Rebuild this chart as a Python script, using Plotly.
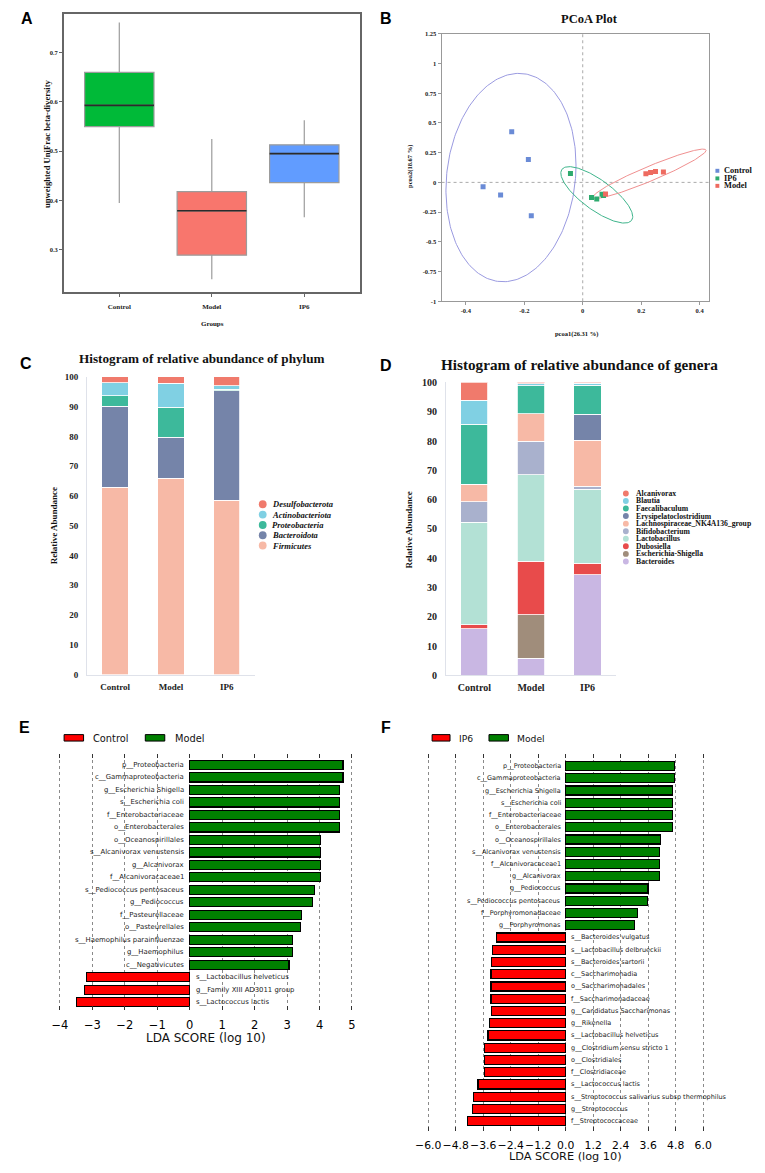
import numpy as np
import plotly.graph_objects as go

# The page body adds an 8px margin, so the figure is drawn 8px in and the
# layout helpers map reference-pixel positions onto the figure.
OFF = 8
W, H = 765 - OFF, 1173 - OFF
def px(x): return min(max((x - OFF) / W, 0), 1)
def py(y): return min(max(1 - (y - OFF) / H, 0), 1)

SERIF = "Liberation Serif"
SANS = "DejaVu Sans"
ARIAL = "Liberation Sans"

# ---------------- Panel A: beta diversity boxplots ----------------
groups = ["Control", "Model", "IP6"]
a_q1 = [0.550, 0.289, 0.436]
a_median = [0.593, 0.379, 0.495]
a_q3 = [0.660, 0.418, 0.513]
a_lower = [0.395, 0.240, 0.366]
a_upper = [0.761, 0.525, 0.563]
a_colors = ["#00BA38", "#F8766D", "#619CFF"]
a_yticks = [0.3, 0.4, 0.5, 0.6, 0.7]

# ---------------- Panel B: PCoA ----------------
pcoa_groups = ["Control", "IP6", "Model"]
ctrl_x = [-0.243, -0.186, -0.341, -0.281, -0.176]
ctrl_y = [0.425, 0.192, -0.036, -0.106, -0.281]
ip6_x = [-0.042, 0.030, 0.048, 0.066, 0.071]
ip6_y = [0.075, -0.128, -0.139, -0.100, -0.110]
model_x = [0.078, 0.216, 0.232, 0.249, 0.276]
model_y = [-0.097, 0.072, 0.083, 0.092, 0.087]
# ellipse: centre, half x-extent, half y-extent, correlation
ell_cx = [-0.2455, 0.048, 0.2285]
ell_cy = [0.0405, -0.105, 0.0725]
ell_sx = [0.2225, 0.123, 0.1935]
ell_sy = [0.8765, 0.2375, 0.2075]
ell_rho = [0.12, -0.77, 0.947]
pcoa_point_colors = ["#6A8BD6", "#2EAA6E", "#EE6B60"]
pcoa_ell_colors = ["#9A9AE0", "#3FB58C", "#F09090"]
b_yticks = [1.25, 1, 0.75, 0.5, 0.25, 0, -0.25, -0.5, -0.75, -1]
b_yticktext = ["1.25", "1", "0.75", "0.5", "0.25", "0", "-0.25", "-0.5", "-0.75", "-1"]
b_xticks = [-0.4, -0.2, 0, 0.2, 0.4]
b_xticktext = ["-0.4", "-0.2", "0", "0.2", "0.4"]

# ---------------- Panel C: phylum ----------------
phyla = ["Firmicutes", "Bacteroidota", "Proteobacteria", "Actinobacteriota", "Desulfobacterota"]
firmicutes = [63.0, 66.0, 58.5]
bacteroidota = [27.1, 13.8, 36.8]
proteobacteria = [3.6, 10.0, 0.5]
actinobacteriota = [4.3, 8.1, 1.2]
desulfobacterota = [2.0, 2.1, 3.0]
phylum_colors = ["#F7B9A6", "#7584A9", "#3DB99B", "#80D0E3", "#F07A6C"]

# ---------------- Panel D: genera ----------------
genera = ["Bacteroides", "Escherichia-Shigella", "Dubosiella", "Lactobacillus",
          "Bifidobacterium", "Lachnospiraceae_NK4A136_group", "Erysipelatoclostridium",
          "Faecalibaculum", "Blautia", "Alcanivorax"]
bacteroides = [16.0, 5.9, 34.4]
escherichia_shigella = [0.0, 14.8, 0.0]
dubosiella = [1.3, 18.3, 3.9]
lactobacillus = [34.9, 29.5, 25.3]
bifidobacterium = [7.0, 11.5, 1.0]
lachnospiraceae = [6.1, 9.3, 15.7]
erysipelatoclostridium = [0.0, 0.0, 8.8]
faecalibaculum = [20.4, 9.5, 9.9]
blautia = [8.2, 0.8, 0.8]
alcanivorax = [6.1, 0.4, 0.2]
genus_colors = ["#C9B7E3", "#A08D7B", "#E84B4B", "#B3E1D5", "#A9B1CD",
                "#F7B9A6", "#7584A9", "#3DB99B", "#80D0E3", "#F07A6C"]

# ---------------- Panel E: LEfSe Control vs Model ----------------
e_taxa = ["p__Proteobacteria", "c__Gammaproteobacteria", "g__Escherichia Shigella",
          "s__Escherichia coli", "f__Enterobacteriaceae", "o__Enterobacterales",
          "o__Oceanospirillales", "s__Alcanivorax venustensis", "g__Alcanivorax",
          "f__Alcanivoracaceae1", "s__Pediococcus pentosaceus", "g__Pediococcus",
          "f__Pasteurellaceae", "o__Pasteurellales", "s__Haemophilus parainfluenzae",
          "g__Haemophilus", "c__Negativicutes", "s__Lactobacillus helveticus",
          "g__Family XIII AD3011 group", "s__Lactococcus lactis"]
e_lda = [4.72, 4.72, 4.62, 4.62, 4.62, 4.62, 4.03, 4.02, 4.02, 4.02,
         3.84, 3.79, 3.44, 3.42, 3.17, 3.17, 3.06, -3.18, -3.24, -3.48]
e_legend = ["Control", "Model"]

# ---------------- Panel F: LEfSe IP6 vs Model ----------------
f_taxa = ["p__Proteobacteria", "c__Gammaproteobacteria", "g__Escherichia Shigella",
          "s__Escherichia coli", "f__Enterobacteriaceae", "o__Enterobacterales",
          "o__Oceanospirillales", "s__Alcanivorax venustensis", "f__Alcanivoracaceae1",
          "g__Alcanivorax", "g__Pediococcus", "s__Pediococcus pentosaceus",
          "f__Porphyromonadaceae", "g__Porphyromonas", "s__Bacteroides vulgatus",
          "s__Lactobacillus delbrueckii", "s__Bacteroides sartorii", "c__Saccharimonadia",
          "o__Saccharimonadales", "f__Saccharimonadaceae", "g__Candidatus Saccharimonas",
          "g__Rikenella", "s__Lactobacillus helveticus", "g__Clostridium sensu stricto 1",
          "o__Clostridiales", "f__Clostridiaceae", "s__Lactococcus lactis",
          "s__Streptococcus salivarius subsp thermophilus", "g__Streptococcus",
          "f__Streptococcaceae"]
f_lda = [4.76, 4.76, 4.65, 4.65, 4.65, 4.65, 4.12, 4.10, 4.10, 4.10,
         3.59, 3.57, 3.15, 3.02, -3.01, -3.18, -3.23, -3.26, -3.26, -3.26,
         -3.25, -3.31, -3.39, -3.56, -3.56, -3.56, -3.83, -4.04, -4.08, -4.27]
f_legend = ["IP6", "Model"]
f_ticks = [-6.0, -4.8, -3.6, -2.4, -1.2, 0.0, 1.2, 2.4, 3.6, 4.8, 6.0]

fig = go.Figure()
annotations = []
shapes = []

def ann(x, y, text, size, family=SERIF, weight="bold", style="normal", xanchor="center",
        yanchor="middle", textangle=0, color="#111"):
    annotations.append(dict(x=px(x), y=py(y), xref="paper", yref="paper", text=text,
                            showarrow=False, xanchor=xanchor, yanchor=yanchor,
                            textangle=textangle,
                            font=dict(family=family, size=size, weight=weight,
                                      style=style, color=color)))

# ---- A ----
for i, g in enumerate(groups):
    fig.add_trace(go.Box(x=[i], q1=[a_q1[i]], median=[a_median[i]], q3=[a_q3[i]],
                         lowerfence=[a_lower[i]], upperfence=[a_upper[i]],
                         width=0.75, whiskerwidth=0, fillcolor=a_colors[i],
                         line=dict(color="#9c9c9c", width=1.2),
                         xaxis="x", yaxis="y", hoverinfo="skip"))
    fig.add_trace(go.Scatter(x=[i - 0.375, i + 0.375], y=[a_median[i], a_median[i]],
                             mode="lines", line=dict(color="#2b2b2b", width=1.6),
                             xaxis="x", yaxis="y", hoverinfo="skip"))

# ---- B ----
pcoa_sets = [(ctrl_x, ctrl_y), (ip6_x, ip6_y), (model_x, model_y)]
t = np.linspace(0, 2 * np.pi, 241)
for k in range(3):
    ex = ell_cx[k] + ell_sx[k] * np.cos(t)
    ey = ell_cy[k] + ell_sy[k] * (ell_rho[k] * np.cos(t) + np.sqrt(1 - ell_rho[k] ** 2) * np.sin(t))
    fig.add_trace(go.Scatter(x=ex, y=ey, mode="lines",
                             line=dict(color=pcoa_ell_colors[k], width=1),
                             xaxis="x2", yaxis="y2", hoverinfo="skip"))
for k in range(3):
    fig.add_trace(go.Scatter(x=pcoa_sets[k][0], y=pcoa_sets[k][1], mode="markers",
                             marker=dict(symbol="square", size=5, color=pcoa_point_colors[k]),
                             xaxis="x2", yaxis="y2", name=pcoa_groups[k]))
shapes.append(dict(type="line", xref="x2", yref="y2 domain", x0=0, x1=0, y0=0, y1=1,
                   line=dict(color="#aaaaaa", width=1, dash="dot"), layer="below"))
shapes.append(dict(type="line", xref="x2 domain", yref="y2", x0=0, x1=1, y0=0, y1=0,
                   line=dict(color="#aaaaaa", width=1, dash="dot"), layer="below"))

# ---- C ----
phylum_vals = [firmicutes, bacteroidota, proteobacteria, actinobacteriota, desulfobacterota]
for name, vals, col in zip(phyla, phylum_vals, phylum_colors):
    fig.add_trace(go.Bar(x=groups, y=vals, width=0.47, name=name,
                         marker=dict(color=col, line=dict(color="white", width=0.8)),
                         xaxis="x3", yaxis="y3", hoverinfo="skip"))

# ---- D ----
genus_vals = [bacteroides, escherichia_shigella, dubosiella, lactobacillus, bifidobacterium,
              lachnospiraceae, erysipelatoclostridium, faecalibaculum, blautia, alcanivorax]
for name, vals, col in zip(genera, genus_vals, genus_colors):
    fig.add_trace(go.Bar(x=groups, y=vals, width=0.48, name=name,
                         marker=dict(color=col, line=dict(color="white", width=0.8)),
                         xaxis="x4", yaxis="y4", hoverinfo="skip"))

# ---- E ----
e_colors = ["#FF0000" if v < 0 else "#008000" for v in e_lda]
fig.add_trace(go.Bar(x=e_lda, y=e_taxa, orientation="h", width=0.74,
                     marker=dict(color=e_colors, line=dict(color="black", width=1.2)),
                     xaxis="x5", yaxis="y5", hoverinfo="skip"))
for name, v in zip(e_taxa, e_lda):
    annotations.append(dict(x=0, y=name, xref="x5", yref="y5", text=name, showarrow=False,
                            xanchor="right" if v > 0 else "left", xshift=-4 if v > 0 else 4,
                            yanchor="middle",
                            font=dict(family=SANS, size=6.9, color="#1a1a1a")))

# ---- F ----
f_colors = ["#FF0000" if v < 0 else "#008000" for v in f_lda]
fig.add_trace(go.Bar(x=f_lda, y=f_taxa, orientation="h", width=0.74,
                     marker=dict(color=f_colors, line=dict(color="black", width=1.2)),
                     xaxis="x6", yaxis="y6", hoverinfo="skip"))
for name, v in zip(f_taxa, f_lda):
    annotations.append(dict(x=0, y=name, xref="x6", yref="y6", text=name, showarrow=False,
                            xanchor="right" if v > 0 else "left", xshift=-3 if v > 0 else 3,
                            yanchor="middle",
                            font=dict(family=SANS, size=6.5, color="#1a1a1a")))

# ---------------- text / legends ----------------
for letter, (lx, ly) in zip("ABCDEF", [(15, 14), (384, 14), (14, 362), (384, 364), (13, 729), (384, 729)]):
    ann(lx, ly, letter, 16, family=ARIAL, weight="bold", color="#000")

# A labels
ann(35, 140, "unweighted UniFrac beta-diversity", 8.6, textangle=-90)
ann(206, 321.7, "Groups", 7)

# B labels
ann(593, 14, "PCoA Plot", 12.5)
ann(408, 163, "pcoa2(18.67 %)", 6.5, textangle=-90)
ann(580, 332, "pcoa1(26.31 %)", 6.5)
b_leg_y = [167.3, 175.0, 182.5]
for k in range(3):
    shapes.append(dict(type="rect", xref="paper", yref="paper",
                       x0=px(722.3), x1=px(726.3), y0=py(b_leg_y[k] + 2), y1=py(b_leg_y[k] - 2),
                       fillcolor=pcoa_point_colors[k], line=dict(width=0)))
    ann(729.5, b_leg_y[k], pcoa_groups[k], 8.4, xanchor="left")

# C
ann(195, 357, "Histogram of relative abundance of phylum", 13.2)
ann(43, 526, "Relative Abundance", 9, textangle=-90)
c_leg_order = list(reversed(range(len(phyla))))
for j, idx in enumerate(c_leg_order):
    yy = 504 + 10.4 * j
    shapes.append(dict(type="circle", xref="paper", yref="paper",
                       x0=px(253.3), x1=px(261.3), y0=py(yy + 4), y1=py(yy - 4),
                       fillcolor=phylum_colors[idx], line=dict(width=0)))
    ann(265, yy, phyla[idx], 8.5, style="italic", xanchor="left")

# D
ann(583, 363, "Histogram of relative abundance of genera", 15.2)
ann(408, 530, "Relative Abundance", 9, textangle=-90)
d_leg_order = list(reversed(range(len(genera))))
for j, idx in enumerate(d_leg_order):
    yy = 493 + 7.63 * j
    shapes.append(dict(type="circle", xref="paper", yref="paper",
                       x0=px(627.3), x1=px(633.3), y0=py(yy + 3), y1=py(yy - 3),
                       fillcolor=genus_colors[idx], line=dict(width=0)))
    ann(639, yy, genera[idx], 7.7, xanchor="left")

# E legend + axis title
for (x0, x1, tx, col, lab) in [(53.3, 73.3, 81, "#FF0000", e_legend[0]), (136.7, 156.7, 165, "#008000", e_legend[1])]:
    shapes.append(dict(type="rect", xref="paper", yref="paper", x0=px(x0), x1=px(x1),
                       y0=py(743), y1=py(736.5), fillcolor=col, line=dict(color="black", width=1)))
    ann(tx, 740, lab, 9.8, family=SANS, weight="normal", xanchor="left")
ann(199, 1043, "LDA SCORE (log 10)", 12, family=SANS, weight="normal")

# F legend + axis title
for (x0, x1, tx, col, lab) in [(431.3, 449.7, 457, "#FF0000", f_legend[0]), (489.7, 509.7, 516.3, "#008000", f_legend[1])]:
    shapes.append(dict(type="rect", xref="paper", yref="paper", x0=px(x0), x1=px(x1),
                       y0=py(743), y1=py(736.5), fillcolor=col, line=dict(color="black", width=1)))
    ann(tx, 740, lab, 9.2, family=SANS, weight="normal", xanchor="left")
ann(568.5, 1162, "LDA SCORE (log 10)", 11.3, family=SANS, weight="normal")

tick_serif = lambda s: dict(family=SERIF, size=s, weight="bold", color="#222")
light_axis = "#dfe2ea"
clear = "rgba(0,0,0,0)"

fig.update_layout(
    width=W, height=H, margin=dict(l=0, r=0, t=0, b=0),
    paper_bgcolor="white", plot_bgcolor="white",
    showlegend=False, barmode="stack", boxmode="overlay",
    annotations=annotations, shapes=shapes,
    # A  (frame top kept just inside the visible page)
    xaxis=dict(domain=[px(53), px(357)], range=[-0.6, 2.6], tickvals=[0, 1, 2], ticktext=groups,
               showline=True, mirror=True, linecolor="#666", linewidth=1.5, ticks="outside",
               ticklen=3, tickcolor="#666", tickfont=tick_serif(7), showgrid=False,
               zeroline=False, ticklabelstandoff=4),
    yaxis=dict(domain=[py(290), py(9)], range=[0.2135, 0.7785], tickvals=a_yticks,
               showline=True, mirror=True, linecolor="#666", linewidth=1.5, ticks="outside",
               ticklen=3, tickcolor="#666", tickfont=tick_serif(6.5), showgrid=False,
               zeroline=False),
    # B
    xaxis2=dict(domain=[px(441), px(716)], range=[-0.483, 0.433], tickvals=b_xticks,
                ticktext=b_xticktext, showline=True, mirror=True, linecolor="#999",
                linewidth=1, ticks="outside", ticklen=3, tickcolor="#999",
                tickfont=tick_serif(6.5), showgrid=False, zeroline=False, anchor="y2"),
    yaxis2=dict(domain=[py(299), py(29)], range=[-1, 1.25], tickvals=b_yticks,
                ticktext=b_yticktext, showline=True, mirror=True, linecolor="#999",
                linewidth=1, ticks="outside", ticklen=3, tickcolor="#999",
                tickfont=tick_serif(6.5), showgrid=False, zeroline=False, anchor="x2"),
    # C
    xaxis3=dict(domain=[px(77), px(249)], range=[-0.5, 2.5], showline=True,
                linecolor=light_axis, linewidth=1.2, ticks="", tickfont=tick_serif(9),
                showgrid=False, zeroline=False, anchor="y3", ticklabelstandoff=3),
    yaxis3=dict(domain=[py(676), py(375.3)], range=[0, 100], dtick=10, showline=True,
                linecolor=light_axis, linewidth=1.2, ticks="", tickfont=tick_serif(9),
                showgrid=False, zeroline=False, anchor="x3", ticklabelstandoff=6),
    # D
    xaxis4=dict(domain=[px(445.7), px(620)], range=[-0.5, 2.5], showline=True,
                linecolor=light_axis, linewidth=1.2, ticks="", tickfont=tick_serif(10),
                showgrid=False, zeroline=False, anchor="y4", ticklabelstandoff=3),
    yaxis4=dict(domain=[py(676.7), py(381)], range=[0, 100], dtick=10, showline=True,
                linecolor=light_axis, linewidth=1.2, ticks="", tickfont=tick_serif(10),
                showgrid=False, zeroline=False, anchor="x4", ticklabelstandoff=6),
    # E
    xaxis5=dict(domain=[px(47.33), px(350.67)], range=[-4.05, 5.05], tickvals=list(range(-4, 6)),
                showgrid=True, gridcolor="#8a8a8a", griddash="dot", gridwidth=1,
                zeroline=False, showline=True, linecolor=clear, ticks="inside", mirror="ticks",
                ticklen=4, tickcolor="#333", tickangle=0,
                tickfont=dict(family=SANS, size=11.5, color="#000"),
                anchor="y5", ticklabelstandoff=4),
    yaxis5=dict(domain=[py(1015), py(756)], type="category", categoryarray=e_taxa,
                range=[len(e_taxa) - 1 + 0.66, -0.87], showticklabels=False, showgrid=False,
                zeroline=False, showline=False, ticks="", anchor="x5"),
    # F
    xaxis6=dict(domain=[px(426.1), px(710.9)], range=[-6.05, 6.05], tickvals=f_ticks,
                tickformat=".1f", showgrid=True, gridcolor="#8a8a8a", griddash="dot",
                gridwidth=1, zeroline=False, showline=True, linecolor=clear, ticks="inside",
                mirror="ticks", ticklen=4, tickcolor="#333", tickangle=0,
                tickfont=dict(family=SANS, size=10.8, color="#000"),
                anchor="y6", ticklabelstandoff=4),
    yaxis6=dict(domain=[py(1136.7), py(756)], type="category", categoryarray=f_taxa,
                range=[len(f_taxa) - 1 + 0.81, -0.99], showticklabels=False, showgrid=False,
                zeroline=False, showline=False, ticks="", anchor="x6"),
)

fig.write_html("out.html")
